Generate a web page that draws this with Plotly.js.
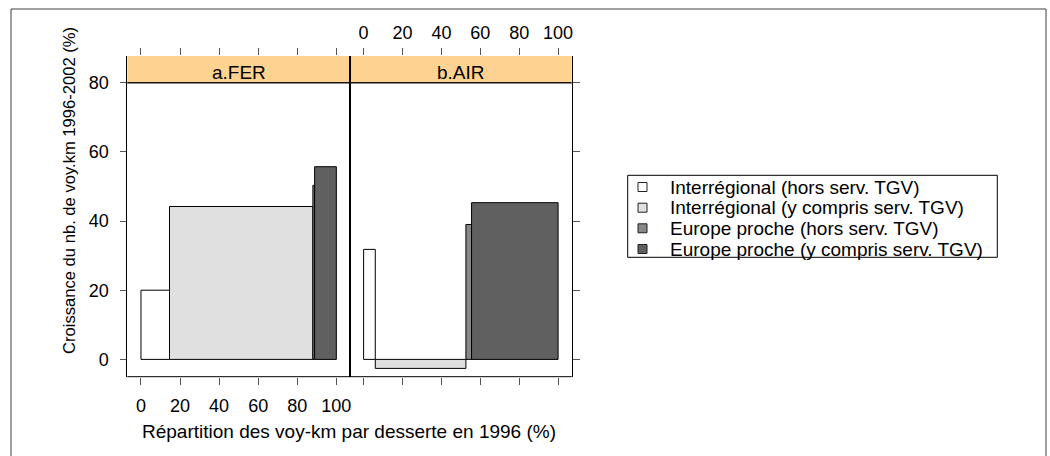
<!DOCTYPE html>
<html>
<head>
<meta charset="utf-8">
<script src="https://cdn.plot.ly/plotly-3.0.1.min.js"></script>
<style>
html,body{margin:0;padding:0;background:#fff;}
#chart{width:1050px;height:456px;}
</style>
</head>
<body>
<div id="chart"></div>
<script>
// ---- data ----
const categories = [
  "Interrégional (hors serv. TGV)",
  "Interrégional (y compris serv. TGV)",
  "Europe proche (hors serv. TGV)",
  "Europe proche (y compris serv. TGV)"
];
const panels = ["a.FER", "b.AIR"];
// share of voy-km in 1996 (%) = bar widths
const ferShare = [14.6, 73.4, 0.9, 11.1];
const airShare = [6.0, 46.6, 2.9, 44.5];
// growth 1996-2002 (%) = bar heights
const ferGrowth = [20.0, 44.2, 50.3, 55.7];
const airGrowth = [31.8, -2.6, 39.0, 45.3];
const xTicks = [0, 20, 40, 60, 80, 100];
const yTicks = [0, 20, 40, 60, 80];
const xTitle = "Répartition des voy-km par desserte en 1996 (%)";
const yTitle = "Croissance du nb. de voy.km 1996-2002 (%)";

// ---- styles ----
const fills = ["#FFFFFF", "#E0E0E0", "#888888", "#606060"];
const stripColor = "#FED391";
const FONT = "Liberation Sans, Arial, sans-serif";
const W = 1050, H = 456;
const px = v => v / W;          // x pixel -> paper
const py = v => 1 - v / H;      // y pixel (from top) -> paper

const X_RANGE = [-7, 107];
const Y_RANGE = [-5, 87.7];
const STRIP_BOTTOM = 80;

function starts(shares) {
  const s = []; let acc = 0;
  shares.forEach(w => { s.push(acc); acc += w; });
  return s;
}

const traces = [];
function addPanel(shares, growth, xa, ya) {
  const st = starts(shares);
  categories.forEach((c, i) => {
    traces.push({
      type: "bar",
      name: c,
      x: [st[i] + shares[i] / 2],
      y: [growth[i]],
      width: [shares[i]],
      xaxis: xa, yaxis: ya,
      marker: {color: fills[i], line: {color: "#000", width: 1}},
      showlegend: false,
      hoverinfo: "skip"
    });
  });
}
addPanel(ferShare, ferGrowth, "x", "y");
addPanel(airShare, airGrowth, "x2", "y2");

const tickFont = {family: FONT, size: 18, color: "#000"};
const xDom1 = [px(127.3), px(350)];
const xDom2 = [px(350), px(571.7)];
const yDom = [py(376.7), py(56)];

const shapes = [];
const annotations = [];
// strips
[["x", "y"], ["x2", "y2"]].forEach(([xa, ya], k) => {
  shapes.push({type: "rect", xref: xa + " domain", yref: ya, x0: 0, x1: 1,
    y0: STRIP_BOTTOM, y1: Y_RANGE[1], fillcolor: stripColor, line: {width: 0}, layer: "below"});
  annotations.push({xref: xa, yref: ya, x: 50, y: 82.9, text: panels[k], showarrow: false,
    xanchor: "center", yanchor: "middle", font: {family: FONT, size: 19, color: "#000"}});
});
// strip bottom line
shapes.push({type: "line", xref: "paper", yref: "y", x0: xDom1[0], x1: xDom2[1],
  y0: STRIP_BOTTOM, y1: STRIP_BOTTOM, line: {color: "#1a1208", width: 1.5}, layer: "above"});
// bottom border
shapes.push({type: "line", xref: "paper", yref: "paper", x0: xDom1[0], x1: xDom2[1],
  y0: yDom[0], y1: yDom[0], line: {color: "#000", width: 1}, layer: "above"});
// outer frame
shapes.push({type: "rect", xref: "paper", yref: "paper", x0: px(11), x1: px(1046),
  y0: -0.1, y1: py(9), line: {color: "#404040", width: 1}, fillcolor: "rgba(0,0,0,0)"});

// axis titles
annotations.push({xref: "paper", yref: "paper", x: px(349), y: py(431), text: xTitle,
  showarrow: false, xanchor: "center", yanchor: "middle", font: {family: FONT, size: 19, color: "#000"}});
annotations.push({xref: "paper", yref: "paper", x: px(69), y: py(191), text: yTitle, textangle: -90,
  showarrow: false, xanchor: "center", yanchor: "middle", font: {family: FONT, size: 16.6, color: "#000"}});

// legend (drawn manually to match lattice key)
shapes.push({type: "rect", xref: "paper", yref: "paper", x0: px(627.7), x1: px(997.3),
  y0: py(257.3), y1: py(175.3), line: {color: "#000", width: 1}, fillcolor: "#fff"});
const rowY = [187, 207.7, 228.3, 249];
categories.forEach((c, i) => {
  shapes.push({type: "rect", xref: "paper", yref: "paper", x0: px(638), x1: px(647),
    y0: py(rowY[i] + 4.5), y1: py(rowY[i] - 4.5), line: {color: "#222", width: 1}, fillcolor: fills[i]});
  annotations.push({xref: "paper", yref: "paper", x: px(668), y: py(rowY[i]), text: c,
    showarrow: false, xanchor: "left", yanchor: "middle", font: {family: FONT, size: 19, color: "#000"}});
});

const axBase = {
  range: X_RANGE, tickvals: xTicks, ticktext: xTicks.map(String),
  ticks: "outside", ticklen: 7, tickwidth: 1, tickcolor: "#555",
  showgrid: false, zeroline: false, showline: false, mirror: "ticks",
  tickfont: tickFont, fixedrange: true
};

const layout = {
  width: W, height: H,
  margin: {l: 0, r: 0, t: 0, b: 0, autoexpand: false},
  paper_bgcolor: "#fff", plot_bgcolor: "rgba(0,0,0,0)",
  barmode: "overlay",
  showlegend: false,
  xaxis: Object.assign({}, axBase, {domain: xDom1, anchor: "y", side: "bottom", ticklabelstandoff: 6}),
  xaxis2: Object.assign({}, axBase, {domain: xDom2, anchor: "y2", side: "top", ticklabelstandoff: 2}),
  yaxis: {domain: yDom, range: Y_RANGE, anchor: "x", side: "left", tickvals: yTicks,
    ticktext: yTicks.map(String), ticks: "outside", ticklen: 6, tickcolor: "#555",
    showgrid: false, zeroline: false, showline: true, linecolor: "#000", linewidth: 1,
    mirror: true, tickfont: tickFont, ticklabelstandoff: 8, fixedrange: true},
  yaxis2: {domain: yDom, range: Y_RANGE, anchor: "x2", side: "right", matches: "y",
    tickvals: yTicks, ticks: "outside", ticklen: 7, tickcolor: "#555", showticklabels: false,
    showgrid: false, zeroline: false, showline: true, linecolor: "#000", linewidth: 1,
    mirror: true, fixedrange: true},
  shapes: shapes,
  annotations: annotations,
  font: {family: FONT, color: "#000"}
};

Plotly.newPlot("chart", traces, layout, {staticPlot: true, displayModeBar: false});
</script>
</body>
</html>
